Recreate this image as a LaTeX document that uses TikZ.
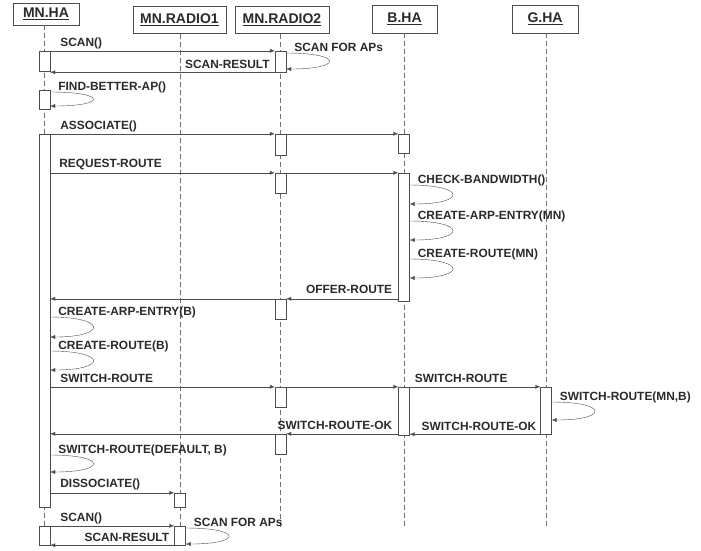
\documentclass[tikz,border=0pt]{standalone}
\usepackage{fontspec}
\setmainfont{Liberation Sans}
\usetikzlibrary{calc}
\usetikzlibrary{arrows.meta}
\definecolor{linegray}{HTML}{4D4D4D}
\definecolor{textgray}{HTML}{2A2A2A}
\tikzstyle{hdr}=[draw=linegray, fill=white, inner sep=0pt, minimum height=27pt, text=textgray, font=\fontsize{14}{16}\selectfont\bfseries]
\tikzstyle{life}=[draw=linegray!80, dash pattern=on 5pt off 3pt]
\tikzstyle{act}=[draw=linegray, fill=white, inner sep=0pt, minimum width=11pt]
\tikzstyle{msg}=[draw=linegray, -{Latex[length=5pt,width=4pt]}]
\tikzstyle{lbl}=[inner sep=0pt, text=textgray, font=\fontsize{11.9}{13}\selectfont\bfseries]
\newcommand{\selfcall}[5]{
% loop on the right side of an activation box
\draw[msg] (#1.east |- 0,#2) .. controls +(57,0) and +(57,0) .. (#1.east |- 0,#3);
\node[lbl, anchor=base west] (#4) at ($(#1.east |- 0,#2)+(8,-2)$) {#5};
}

\begin{document}
\begin{tikzpicture}[x=1pt,y=-1pt]
	\useasboundingbox (0,0) rectangle (701,550);
	% objects
	\node[hdr, minimum width=66pt, minimum height=22pt] (mnha) at (46,14) {\underline{MN.HA}};
	\node[hdr, minimum width=93pt] (radio1) at (179.5,20) {\underline{MN.RADIO1}};
	\node[hdr, minimum width=94pt] (radio2) at (282,20) {\underline{MN.RADIO2}};
	\node[hdr, minimum width=65pt, minimum height=28pt] (bha) at (404.5,19) {\underline{B.HA}};
	\node[hdr, minimum width=66pt, minimum height=28pt] (gha) at (545,19) {\underline{G.HA}};
	\foreach \p/\x in {mnha/44.5, radio1/180, radio2/280.5, bha/404, gha/546}
		\draw[life] (\x,0 |- \p.south) -- (\x,527);
	% activations
	\node[act, minimum height=20pt] (h1) at (44.5,61) {};
	\node[act, minimum height=21pt] (r2a) at (280.5,61.5) {};
	\node[act, minimum height=19pt] (h2) at (44.5,99.5) {};
	\node[act, minimum height=373pt] (h3) at (44.5,320.5) {};
	\node[act, minimum height=21pt] (r2b) at (280.5,144.5) {};
	\node[act, minimum height=19pt] (b1) at (404,143.5) {};
	\node[act, minimum height=20pt] (r2c) at (280.5,183) {};
	\node[act, minimum height=128pt] (b2) at (404,237) {};
	\node[act, minimum height=20pt] (r2d) at (280.5,309) {};
	\node[act, minimum height=20pt] (r2e) at (280.5,397) {};
	\node[act, minimum height=48pt] (b3) at (404,411) {};
	\node[act, minimum height=47pt] (g1) at (546,410.5) {};
	\node[act, minimum height=20pt] (r2f) at (280.5,444) {};
	\node[act, minimum height=14pt] (r1a) at (180,500) {};
	\node[act, minimum height=19pt] (h4) at (44.5,535.5) {};
	\node[act, minimum height=19pt] (r1b) at (180,535.5) {};
	% scan
	\draw[msg] (h1.north east) -- (r2a.north west);
	\node[lbl, anchor=base west] (scan1) at ($(h1.north east)+(10,-4)$) {SCAN()};
	\selfcall{r2a}{53}{69}{aps1}{SCAN FOR APs}
	\draw[msg] (r2a.south west) -- (h1.east |- r2a.south);
	\node[lbl, anchor=base east] (res1) at ($(r2a.south west)+(-5,-4)$) {SCAN-RESULT};
	\selfcall{h2}{92}{106}{fba}{FIND-BETTER-AP()}
	% associate and route request
	\draw[msg] (h3.north east) -- (r2b.north west);
	\draw[msg] (r2b.north east) -- (b1.north west);
	\node[lbl, anchor=base west] (assoc) at ($(h3.north east)+(10,-4)$) {ASSOCIATE()};
	\draw[msg] (h3.east |- r2c.north) -- (r2c.north west);
	\draw[msg] (r2c.north east) -- (b2.north west);
	\node[lbl, anchor=base west] (req) at ($(h3.east |- r2c.north)+(9,-5)$) {REQUEST-ROUTE};
	\selfcall{b2}{185}{204}{chk}{CHECK-BANDWIDTH()}
	\selfcall{b2}{221}{240}{arpmn}{CREATE-ARP-ENTRY(MN)}
	\selfcall{b2}{259}{278}{rtmn}{CREATE-ROUTE(MN)}
	\draw[msg] (b2.west |- r2d.north) -- (r2d.north east);
	\draw[msg] (r2d.north west) -- (h3.east |- r2d.north);
	\node[lbl, anchor=base east] (offer) at ($(b2.west |- r2d.north)+(-6,-5)$) {OFFER-ROUTE};
	\selfcall{h3}{317}{337}{arpb}{CREATE-ARP-ENTRY(B)}
	\selfcall{h3}{351}{370}{rtb}{CREATE-ROUTE(B)}
	% switch route
	\draw[msg] (h3.east |- r2e.north) -- (r2e.north west);
	\draw[msg] (r2e.north east) -- (b3.north west);
	\draw[msg] (b3.north east) -- (g1.north west);
	\node[lbl, anchor=base west] (sw1) at ($(h3.east |- r2e.north)+(10,-4)$) {SWITCH-ROUTE};
	\node[lbl, anchor=base west] (sw2) at ($(b3.north east)+(5,-4)$) {SWITCH-ROUTE};
	\selfcall{g1}{402}{420}{swmn}{SWITCH-ROUTE(MN,B)}
	\draw[msg] (g1.south west) -- (b3.east |- g1.south);
	\draw[msg] (b3.west |- r2f.north) -- (r2f.north east);
	\draw[msg] (r2f.north west) -- (h3.east |- r2f.north);
	\node[lbl, anchor=base east] (ok1) at ($(g1.south west)+(-4,-4)$) {SWITCH-ROUTE-OK};
	\node[lbl, anchor=base east] (ok2) at ($(b3.west |- r2f.north)+(-6,-4)$) {SWITCH-ROUTE-OK};
	\selfcall{h3}{455}{472}{swdef}{SWITCH-ROUTE(DEFAULT, B)}
	\draw[msg] (h3.east |- r1a.north) -- (r1a.north west);
	\node[lbl, anchor=base west] (dis) at ($(h3.east |- r1a.north)+(10,-5)$) {DISSOCIATE()};
	% scan again
	\draw[msg] (h4.north east) -- (r1b.north west);
	\node[lbl, anchor=base west] (scan2) at ($(h4.north east)+(10,-4)$) {SCAN()};
	\selfcall{r1b}{528}{544}{aps2}{SCAN FOR APs}
	\draw[msg] (r1b.south west) -- (h4.south east);
	\node[lbl, anchor=base east] (res2) at ($(r1b.south west)+(-5,-4)$) {SCAN-RESULT};
\end{tikzpicture}
\end{document}
